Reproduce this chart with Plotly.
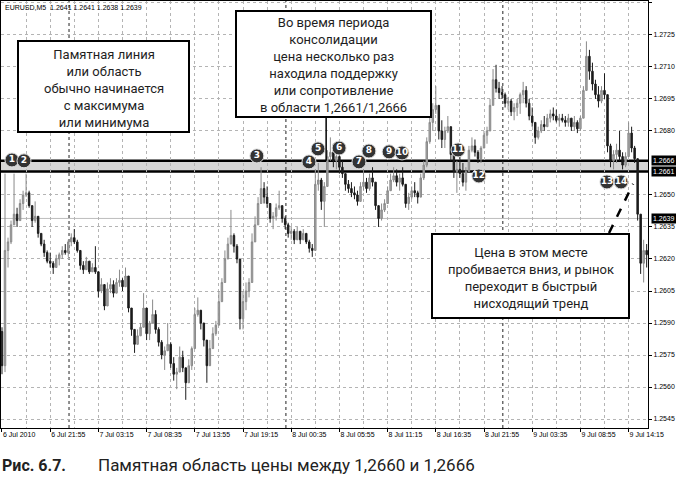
import plotly.graph_objects as go

# EURUSD M5, 6-9 Jul 2010, one bar here = four M5 bars
opens = [1.2586, 1.2570, 1.2624, 1.2628, 1.2636, 1.2641, 1.2638, 1.2646, 1.2650, 1.2651,
         1.2645, 1.2638, 1.2640, 1.2632, 1.2627, 1.2623, 1.2619, 1.2618, 1.2616, 1.2620,
         1.2622, 1.2624, 1.2623, 1.2628, 1.2630, 1.2628, 1.2624, 1.2617, 1.2615, 1.2619,
         1.2614, 1.2616, 1.2614, 1.2605, 1.2608, 1.2598, 1.2606, 1.2608, 1.2604, 1.2609,
         1.2610, 1.2607, 1.2612, 1.2597, 1.2587, 1.2580, 1.2584, 1.2588, 1.2597, 1.2585,
         1.2590, 1.2594, 1.2587, 1.2581, 1.2575, 1.2577, 1.2580, 1.2571, 1.2566, 1.2567,
         1.2574, 1.2569, 1.2562, 1.2570, 1.2578, 1.2594, 1.2596, 1.2590, 1.2582, 1.2570,
         1.2578, 1.2585, 1.2589, 1.2600, 1.2609, 1.2620, 1.2627, 1.2631, 1.2626, 1.2620,
         1.2592, 1.2600, 1.2605, 1.2609, 1.2628, 1.2636, 1.2646, 1.2653, 1.2649, 1.2646,
         1.2639, 1.2640, 1.2644, 1.2645, 1.2639, 1.2636, 1.2632, 1.2633, 1.2629, 1.2633,
         1.2629, 1.2632, 1.2628, 1.2625, 1.2624, 1.2655, 1.2657, 1.2647, 1.2654, 1.2668,
         1.2670, 1.2666, 1.2668, 1.2663, 1.2660, 1.2655, 1.2653, 1.2651, 1.2650, 1.2647,
         1.2654, 1.2656, 1.2653, 1.2658, 1.2656, 1.2645, 1.2639, 1.2643, 1.2646, 1.2652,
         1.2657, 1.2659, 1.2656, 1.2658, 1.2655, 1.2646, 1.2649, 1.2652, 1.2651, 1.2649,
         1.2658, 1.2664, 1.2675, 1.2684, 1.2690, 1.2692, 1.2680, 1.2676, 1.2680, 1.2682,
         1.2669, 1.2661, 1.2662, 1.2660, 1.2656, 1.2661, 1.2671, 1.2673, 1.2670, 1.2667,
         1.2672, 1.2678, 1.2680, 1.2692, 1.2704, 1.2700, 1.2698, 1.2697, 1.2693, 1.2694,
         1.2689, 1.2691, 1.2693, 1.2697, 1.2699, 1.2693, 1.2687, 1.2684, 1.2677, 1.2680,
         1.2683, 1.2682, 1.2686, 1.2688, 1.2687, 1.2685, 1.2686, 1.2685, 1.2684, 1.2686,
         1.2682, 1.2684, 1.2681, 1.2686, 1.2699, 1.2715, 1.2708, 1.2702, 1.2697, 1.2694,
         1.2699, 1.2697, 1.2673, 1.2666, 1.2669, 1.2671, 1.2668, 1.2664, 1.2668, 1.2679,
         1.2672, 1.2667, 1.2641, 1.2618, 1.2624]
highs = [1.2588, 1.2660, 1.2630, 1.2638, 1.2660, 1.2644, 1.2648, 1.2652, 1.2660, 1.2652,
         1.2645, 1.2647, 1.2640, 1.2632, 1.2629, 1.2624, 1.2623, 1.2619, 1.2622, 1.2623,
         1.2626, 1.2627, 1.2629, 1.2632, 1.2634, 1.2629, 1.2624, 1.2619, 1.2621, 1.2619,
         1.2618, 1.2626, 1.2614, 1.2611, 1.2608, 1.2609, 1.2611, 1.2610, 1.2611, 1.2615,
         1.2611, 1.2616, 1.2612, 1.2597, 1.2587, 1.2587, 1.2590, 1.2604, 1.2597, 1.2591,
         1.2601, 1.2596, 1.2588, 1.2582, 1.2579, 1.2590, 1.2581, 1.2574, 1.2569, 1.2579,
         1.2577, 1.2569, 1.2573, 1.2579, 1.2597, 1.2602, 1.2596, 1.2590, 1.2582, 1.2582,
         1.2588, 1.2591, 1.2605, 1.2611, 1.2624, 1.2630, 1.2643, 1.2632, 1.2627, 1.2620,
         1.2605, 1.2609, 1.2611, 1.2632, 1.2640, 1.2649, 1.2663, 1.2656, 1.2654, 1.2646,
         1.2642, 1.2646, 1.2652, 1.2645, 1.2640, 1.2637, 1.2635, 1.2634, 1.2635, 1.2633,
         1.2634, 1.2632, 1.2629, 1.2627, 1.2662, 1.2665, 1.2658, 1.2656, 1.2671, 1.2677,
         1.2674, 1.2671, 1.2670, 1.2666, 1.2660, 1.2657, 1.2656, 1.2654, 1.2652, 1.2656,
         1.2662, 1.2658, 1.2660, 1.2663, 1.2656, 1.2645, 1.2646, 1.2648, 1.2654, 1.2660,
         1.2663, 1.2662, 1.2660, 1.2663, 1.2655, 1.2651, 1.2654, 1.2656, 1.2652, 1.2660,
         1.2666, 1.2677, 1.2687, 1.2693, 1.2701, 1.2692, 1.2685, 1.2682, 1.2687, 1.2682,
         1.2671, 1.2666, 1.2670, 1.2665, 1.2663, 1.2673, 1.2677, 1.2676, 1.2671, 1.2673,
         1.2680, 1.2682, 1.2695, 1.2709, 1.2711, 1.2703, 1.2701, 1.2698, 1.2696, 1.2695,
         1.2693, 1.2695, 1.2698, 1.2703, 1.2701, 1.2695, 1.2691, 1.2684, 1.2682, 1.2685,
         1.2687, 1.2688, 1.2690, 1.2691, 1.2690, 1.2688, 1.2688, 1.2687, 1.2688, 1.2686,
         1.2687, 1.2685, 1.2687, 1.2701, 1.2722, 1.2718, 1.2712, 1.2704, 1.2701, 1.2701,
         1.2707, 1.2697, 1.2674, 1.2671, 1.2674, 1.2680, 1.2670, 1.2670, 1.2684, 1.2682,
         1.2673, 1.2667, 1.2641, 1.2629, 1.2627]
lows = [1.2566, 1.2567, 1.2616, 1.2627, 1.2636, 1.2635, 1.2638, 1.2643, 1.2649, 1.2644,
        1.2635, 1.2637, 1.2630, 1.2626, 1.2621, 1.2618, 1.2616, 1.2613, 1.2616, 1.2617,
        1.2620, 1.2622, 1.2621, 1.2626, 1.2627, 1.2623, 1.2615, 1.2613, 1.2615, 1.2613,
        1.2614, 1.2613, 1.2602, 1.2604, 1.2596, 1.2598, 1.2604, 1.2602, 1.2604, 1.2607,
        1.2605, 1.2607, 1.2595, 1.2584, 1.2576, 1.2580, 1.2584, 1.2588, 1.2582, 1.2582,
        1.2590, 1.2585, 1.2579, 1.2573, 1.2568, 1.2577, 1.2569, 1.2563, 1.2559, 1.2567,
        1.2567, 1.2554, 1.2562, 1.2568, 1.2578, 1.2593, 1.2587, 1.2579, 1.2562, 1.2570,
        1.2578, 1.2584, 1.2589, 1.2600, 1.2609, 1.2620, 1.2627, 1.2623, 1.2618, 1.2587,
        1.2587, 1.2596, 1.2602, 1.2609, 1.2628, 1.2636, 1.2646, 1.2646, 1.2644, 1.2637,
        1.2634, 1.2638, 1.2643, 1.2637, 1.2634, 1.2630, 1.2629, 1.2627, 1.2629, 1.2627,
        1.2629, 1.2627, 1.2623, 1.2621, 1.2624, 1.2652, 1.2643, 1.2635, 1.2654, 1.2666,
        1.2663, 1.2662, 1.2660, 1.2658, 1.2652, 1.2651, 1.2649, 1.2648, 1.2645, 1.2647,
        1.2652, 1.2651, 1.2652, 1.2654, 1.2643, 1.2635, 1.2638, 1.2642, 1.2646, 1.2652,
        1.2656, 1.2654, 1.2652, 1.2654, 1.2644, 1.2643, 1.2648, 1.2649, 1.2646, 1.2649,
        1.2657, 1.2663, 1.2674, 1.2680, 1.2688, 1.2676, 1.2672, 1.2672, 1.2679, 1.2666,
        1.2658, 1.2651, 1.2658, 1.2654, 1.2652, 1.2661, 1.2670, 1.2668, 1.2665, 1.2665,
        1.2672, 1.2674, 1.2680, 1.2692, 1.2698, 1.2695, 1.2695, 1.2691, 1.2690, 1.2687,
        1.2685, 1.2687, 1.2688, 1.2693, 1.2691, 1.2685, 1.2682, 1.2674, 1.2676, 1.2679,
        1.2680, 1.2682, 1.2684, 1.2685, 1.2684, 1.2682, 1.2684, 1.2682, 1.2682, 1.2680,
        1.2680, 1.2679, 1.2680, 1.2686, 1.2699, 1.2704, 1.2699, 1.2695, 1.2691, 1.2693,
        1.2695, 1.2670, 1.2663, 1.2662, 1.2665, 1.2666, 1.2662, 1.2663, 1.2668, 1.2670,
        1.2665, 1.2638, 1.2613, 1.2609, 1.2616]
closes = [1.2570, 1.2624, 1.2628, 1.2636, 1.2641, 1.2638, 1.2646, 1.2650, 1.2651, 1.2645,
          1.2638, 1.2640, 1.2632, 1.2627, 1.2623, 1.2619, 1.2618, 1.2616, 1.2620, 1.2622,
          1.2624, 1.2623, 1.2628, 1.2630, 1.2628, 1.2624, 1.2617, 1.2615, 1.2619, 1.2614,
          1.2616, 1.2614, 1.2605, 1.2608, 1.2598, 1.2606, 1.2608, 1.2604, 1.2609, 1.2610,
          1.2607, 1.2612, 1.2597, 1.2587, 1.2580, 1.2584, 1.2588, 1.2597, 1.2585, 1.2590,
          1.2594, 1.2587, 1.2581, 1.2575, 1.2577, 1.2580, 1.2571, 1.2566, 1.2567, 1.2574,
          1.2569, 1.2562, 1.2570, 1.2578, 1.2594, 1.2596, 1.2590, 1.2582, 1.2570, 1.2578,
          1.2585, 1.2589, 1.2600, 1.2609, 1.2620, 1.2627, 1.2631, 1.2626, 1.2620, 1.2592,
          1.2600, 1.2605, 1.2609, 1.2628, 1.2636, 1.2646, 1.2653, 1.2649, 1.2646, 1.2639,
          1.2640, 1.2644, 1.2645, 1.2639, 1.2636, 1.2632, 1.2633, 1.2629, 1.2633, 1.2629,
          1.2632, 1.2628, 1.2625, 1.2624, 1.2655, 1.2657, 1.2647, 1.2654, 1.2668, 1.2670,
          1.2666, 1.2668, 1.2663, 1.2660, 1.2655, 1.2653, 1.2651, 1.2650, 1.2647, 1.2654,
          1.2656, 1.2653, 1.2658, 1.2656, 1.2645, 1.2639, 1.2643, 1.2646, 1.2652, 1.2657,
          1.2659, 1.2656, 1.2658, 1.2655, 1.2646, 1.2649, 1.2652, 1.2651, 1.2649, 1.2658,
          1.2664, 1.2675, 1.2684, 1.2690, 1.2692, 1.2680, 1.2676, 1.2680, 1.2682, 1.2669,
          1.2661, 1.2662, 1.2660, 1.2656, 1.2661, 1.2671, 1.2673, 1.2670, 1.2667, 1.2672,
          1.2678, 1.2680, 1.2692, 1.2704, 1.2700, 1.2698, 1.2697, 1.2693, 1.2694, 1.2689,
          1.2691, 1.2693, 1.2697, 1.2699, 1.2693, 1.2687, 1.2684, 1.2677, 1.2680, 1.2683,
          1.2682, 1.2686, 1.2688, 1.2687, 1.2685, 1.2686, 1.2685, 1.2684, 1.2686, 1.2682,
          1.2684, 1.2681, 1.2686, 1.2699, 1.2715, 1.2708, 1.2702, 1.2697, 1.2694, 1.2699,
          1.2697, 1.2673, 1.2666, 1.2669, 1.2671, 1.2668, 1.2664, 1.2668, 1.2679, 1.2672,
          1.2667, 1.2641, 1.2618, 1.2624, 1.2622]

tick_bars = [0, 16, 32, 48, 64, 80, 96, 112, 128, 144, 160, 176, 192, 208]
tick_labels = ["6 Jul 2010", "6 Jul 21:55", "7 Jul 03:15", "7 Jul 08:35", "7 Jul 13:55",
               "7 Jul 19:15", "8 Jul 00:35", "8 Jul 05:55", "8 Jul 11:15", "8 Jul 16:35",
               "8 Jul 21:55", "9 Jul 03:35", "9 Jul 08:55", "9 Jul 14:15"]
grid_bars = [8, 24, 40, 56, 72, 88, 104, 120, 136, 152, 168, 184, 200]
day_breaks = [22.25, 94.25, 166.25]
# 1.2665 sits under the 1.2666 marker label, so it is left out
price_ticks = [1.2545, 1.2560, 1.2575, 1.2590, 1.2605, 1.2620, 1.2635, 1.2650,
               1.2680, 1.2695, 1.2710, 1.2725, 1.2740]

zone_low, zone_high = 1.2661, 1.2666
bid_price = 1.2639

touch_no = list(range(1, 15))
touch_bar = [3.3, 7.3, 84.6, 101.9, 104.9, 111.9, 118.5, 121.8, 128.5, 132.8,
             151.4, 158.3, 200.8, 205.5]
touch_price = [1.26664, 1.26660, 1.26683, 1.26655, 1.26716, 1.26720, 1.26655, 1.26706,
               1.26702, 1.26697, 1.26711, 1.26589, 1.26561, 1.26561]

# plot frame in page pixels
PL, PR, PT, PB = 1, 648, 1, 428


def px(x):
    return (x - PL) / (PR - PL)


def py(y):
    return (PB - y) / (PB - PT)


fig = go.Figure()

fig.add_trace(go.Candlestick(
    x=list(range(len(closes))), open=opens, high=highs, low=lows, close=closes,
    increasing=dict(line=dict(color="#8a8a8a", width=1), fillcolor="#a8a8a8"),
    decreasing=dict(line=dict(color="#1c1c1c", width=1), fillcolor="#1c1c1c"),
    hoverinfo="skip", showlegend=False))

fig.add_trace(go.Scatter(
    x=touch_bar, y=touch_price, mode="markers+text", text=[str(n) for n in touch_no],
    textposition="middle center",
    textfont=dict(family="DejaVu Sans", size=9, color="white", weight="bold"),
    marker=dict(size=14, color="#333333", line=dict(color="#e0e0e0", width=1)),
    hoverinfo="skip", showlegend=False, cliponaxis=False))

shapes = [
    dict(type="rect", xref="paper", yref="y", x0=0, x1=1, y0=zone_low, y1=zone_high,
         fillcolor="#d6d6d6", line=dict(width=0), layer="between"),
    dict(type="line", xref="paper", yref="y", x0=0, x1=1, y0=zone_high, y1=zone_high,
         line=dict(color="black", width=2.5), layer="between"),
    dict(type="line", xref="paper", yref="y", x0=0, x1=1, y0=zone_low, y1=zone_low,
         line=dict(color="black", width=2.5), layer="between"),
    dict(type="line", xref="paper", yref="y", x0=0, x1=1, y0=bid_price, y1=bid_price,
         line=dict(color="#bdbdbd", width=1), layer="between"),
    # pointers from the notes
    dict(type="line", xref="x", yref="y", x0=107.6, x1=107.6, y0=zone_high, y1=1.26866,
         line=dict(color="black", width=1.5)),
    dict(type="line", xref="x", yref="y", x0=201.5, x1=209.5, y0=1.26322, y1=1.26552,
         line=dict(color="black", width=2.5, dash="dash")),
]
for b in day_breaks:
    shapes.append(dict(type="line", xref="x", yref="paper", x0=b, x1=b, y0=0, y1=1,
                       line=dict(color="#222222", width=1, dash="dot"), layer="between"))

notes = [
    ((18, 41, 189, 132), "Памятная линия<br>или область<br>обычно начинается<br>с максимума<br>или минимума"),
    ((236, 11, 431, 117), "Во время периода<br>консолидации<br>цена несколько раз<br>находила поддержку<br>"
                          "или сопротивление<br>в области 1,2661/1,2666"),
    ((432, 234, 629, 318), "Цена в этом месте<br>пробивается вниз, и рынок<br>переходит в быстрый<br>нисходящий тренд"),
]
annotations = []
for (x0, y0, x1, y1), txt in notes:
    shapes.append(dict(type="rect", xref="paper", yref="paper", x0=px(x0), x1=px(x1),
                       y0=py(y1), y1=py(y0), fillcolor="white",
                       line=dict(color="black", width=2), layer="above"))
    annotations.append(dict(xref="paper", yref="paper", x=px((x0 + x1) / 2),
                            y=py((y0 + y1) / 2 + 1.5), text=txt, showarrow=False,
                            font=dict(family="Roboto", size=13, color="#1e1e1e"),
                            align="center", xanchor="center", yanchor="middle"))

for p in (zone_high, zone_low, bid_price):
    annotations.append(dict(xref="paper", yref="y", x=1, y=p, xanchor="left", xshift=3,
                            text=f"{p:.4f}", showarrow=False, bgcolor="black", borderpad=1,
                            font=dict(family="Liberation Sans", size=7, color="white")))

annotations.append(dict(xref="paper", yref="paper", x=px(3), y=py(7), xanchor="left",
                        yanchor="middle", showarrow=False,
                        text="EURUSD,M5  1.2641 1.2641 1.2638 1.2639",
                        font=dict(family="Liberation Sans", size=7, color="black")))
annotations.append(dict(xref="paper", yref="paper", x=px(0), y=py(465), xanchor="left",
                        yanchor="middle", showarrow=False, text="<b>Рис. 6.7.</b>",
                        font=dict(family="Roboto", size=16, color="#222222")))
annotations.append(dict(xref="paper", yref="paper", x=px(96), y=py(465), xanchor="left",
                        yanchor="middle", showarrow=False,
                        text="Памятная область цены между 1,2660 и 1,2666",
                        font=dict(family="Roboto", size=17, color="#222222")))

fig.update_layout(
    width=676, height=477,
    margin=dict(l=PL, r=676 - PR, t=PT, b=477 - PB),
    paper_bgcolor="white", plot_bgcolor="white",
    shapes=shapes, annotations=annotations,
    xaxis=dict(range=[-0.33, 214.44], rangeslider=dict(visible=False),
               tickmode="array", tickvals=tick_bars, ticktext=tick_labels,
               ticklabelposition="outside right", ticks="outside", ticklen=3,
               tickcolor="black", tickfont=dict(family="Liberation Sans", size=7, color="black"),
               showgrid=True, gridcolor="#b4b4b4", griddash="dot", gridwidth=1,
               minor=dict(tickmode="array", tickvals=grid_bars, showgrid=True,
                          gridcolor="#b4b4b4", griddash="dot", ticks=""),
               showline=True, linecolor="black", linewidth=1, mirror=True,
               zeroline=False, fixedrange=True),
    yaxis=dict(range=[1.25408, 1.27409], side="right", tickmode="array",
               tickvals=price_ticks, tickformat=".4f", ticks="outside", ticklen=3,
               tickcolor="black", tickfont=dict(family="Liberation Sans", size=7, color="black"),
               showgrid=True, gridcolor="#b4b4b4", griddash="dot", gridwidth=1,
               showline=True, linecolor="black", linewidth=1, mirror=True,
               zeroline=False, fixedrange=True),
)

fig.write_html("out.html", config={"displayModeBar": False},
               post_script="document.body.style.margin='0';")
